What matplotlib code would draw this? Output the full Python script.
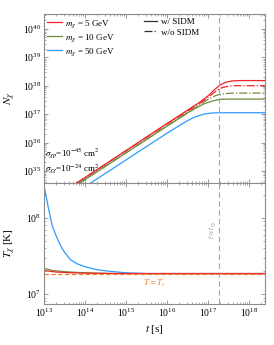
import numpy as np
import matplotlib
matplotlib.use('Agg')
import matplotlib.pyplot as plt
from matplotlib.ticker import LogLocator, NullFormatter

plt.rcParams['font.family'] = ['Liberation Serif', 'DejaVu Serif']
plt.rcParams['mathtext.fontset'] = 'stix'

# ---- data (log10 values) ----
# top panel: number of captured particles N_chi vs t
red_t = [13.80, 14.5, 15.0, 15.5, 16.0, 16.5, 16.8, 17.0, 17.15, 17.3, 17.45, 17.6, 17.8, 18.4]
red_N = [34.58, 35.245, 35.72, 36.195, 36.67, 37.14, 37.42, 37.64, 37.85, 38.03, 38.13, 38.17, 38.18, 38.18]
redd_t = [13.80, 14.5, 15.0, 15.5, 16.0, 16.5, 16.8, 17.0, 17.15, 17.3, 17.45, 17.6, 18.4]
redd_N = [34.58, 35.24, 35.71, 36.18, 36.65, 37.1, 37.38, 37.58, 37.76, 37.91, 37.97, 38.0, 38.0]
grn_t = [13.87, 14.5, 15.0, 15.5, 16.0, 16.5, 16.7, 16.9, 17.1, 17.3, 17.5, 18.4]
grn_N = [34.58, 35.17, 35.64, 36.11, 36.58, 37.04, 37.21, 37.36, 37.46, 37.52, 37.53, 37.53]
grnd_t = [13.87, 14.5, 15.0, 15.5, 16.0, 16.5, 16.8, 17.0, 17.2, 17.4, 17.6, 18.4]
grnd_N = [34.58, 35.17, 35.64, 36.11, 36.58, 37.05, 37.33, 37.52, 37.66, 37.72, 37.74, 37.74]
blu_t = [14.14, 14.5, 15.0, 15.5, 16.0, 16.3, 16.5, 16.7, 16.9, 17.1, 17.3, 18.4]
blu_N = [34.58, 34.92, 35.39, 35.86, 36.33, 36.6, 36.77, 36.91, 37.0, 37.04, 37.05, 37.05]

# bottom panel: temperature T_chi vs t
tb_t = [13.0, 13.1, 13.2, 13.3, 13.4, 13.5, 13.65, 13.8, 14.0, 14.3, 14.6, 15.0, 15.5, 18.4]
tb_T = [8.43, 8.15, 7.90, 7.76, 7.64, 7.55, 7.45, 7.40, 7.36, 7.32, 7.30, 7.28, 7.27, 7.27]
tg_t = [13.0, 13.2, 13.5, 13.8, 14.2, 14.6, 15.0, 18.4]
tg_T = [7.34, 7.31, 7.295, 7.285, 7.277, 7.272, 7.27, 7.27]
tr_t = [13.0, 13.3, 13.7, 14.2, 14.8, 18.4]
tr_T = [7.31, 7.29, 7.28, 7.273, 7.27, 7.27]
Tc = 7.27
t_sun = 17.28

red = '#f0232b'
green = '#6e8b3d'
blue = '#2f9bff'
orange = '#f57f26'
gray = '#8c8c8c'

def p(a):
    return 10 ** np.array(a)

fig = plt.figure(figsize=(2.74, 3.45), dpi=100)
ax1 = fig.add_axes([0.1606, 0.4696, 0.8064, 0.4898])
ax2 = fig.add_axes([0.1606, 0.1188, 0.8064, 0.3508], sharex=ax1)

ax1.plot(p(red_t), p(red_N), color=red, lw=0.9)
ax1.plot(p(redd_t), p(redd_N), color=red, lw=0.9, ls='-.')
ax1.plot(p(grn_t), p(grn_N), color=green, lw=0.9)
ax1.plot(p(grnd_t), p(grnd_N), color=green, lw=0.9, ls='-.')
ax1.plot(p(blu_t), p(blu_N), color=blue, lw=0.9)

ax2.plot(p(tb_t), p(tb_T), color=blue, lw=0.9)
ax2.plot(p(tg_t), p(tg_T), color=green, lw=0.9)
ax2.plot(p(tr_t), p(tr_T), color=red, lw=0.9)
ax2.axhline(10 ** Tc, color=orange, lw=0.9, ls=(0, (3.5, 2)))

for ax in (ax1, ax2):
    ax.axvline(10 ** t_sun, color='#9aa8bb', lw=0.8, ls=(0, (5, 3)))
    ax.set_xscale('log')
    ax.set_yscale('log')
    for s in ax.spines.values():
        s.set_color(gray)
        s.set_linewidth(0.8)
    ax.tick_params(which='both', direction='in', top=True, right=True,
                   color=gray, labelsize=7, pad=2)
    ax.tick_params(which='major', length=3, width=0.6)
    ax.tick_params(which='minor', length=1.6, width=0.5)
    ax.xaxis.set_major_locator(LogLocator(base=10, numticks=20))
    ax.xaxis.set_minor_locator(LogLocator(base=10, subs=np.arange(2, 10), numticks=20))
    ax.xaxis.set_minor_formatter(NullFormatter())

ax1.set_xlim(1e13, 10 ** 18.39)
ax1.set_ylim(10 ** 34.58, 10 ** 40.52)
ax1.set_yticks([1e35, 1e36, 1e37, 1e38, 1e39, 1e40])
ax1.yaxis.set_minor_locator(LogLocator(base=10, subs=np.arange(2, 10), numticks=20))
ax1.yaxis.set_minor_formatter(NullFormatter())
plt.setp(ax1.get_xticklabels(), visible=False)

ax2.set_ylim(10 ** 6.87, 10 ** 8.46)
ax2.set_yticks([1e7, 1e8])
ax2.yaxis.set_minor_locator(LogLocator(base=10, subs=np.arange(2, 10), numticks=20))
ax2.yaxis.set_minor_formatter(NullFormatter())

ax1.set_ylabel(r'$N_\chi$', fontsize=8)
ax2.set_ylabel(r'$T_\chi$ [K]', fontsize=8)
ax1.yaxis.set_label_coords(-0.118, 0.5)
ax2.yaxis.set_label_coords(-0.118, 0.5)
ax2.set_xlabel(r'$t$ [s]', fontsize=8, labelpad=3)

# legends
h1 = [plt.Line2D([], [], color=c, lw=0.9) for c in (red, green, blue)]
leg1 = ax1.legend(h1, [r'$m_\chi$ = 5 GeV', r'$m_\chi$ = 10 GeV', r'$m_\chi$ = 50 GeV'],
                  loc='upper left', bbox_to_anchor=(-0.01, 1.01), frameon=False,
                  fontsize=6.5, handlelength=1.6, handletextpad=0.4, labelspacing=0.25,
                  borderaxespad=0.2)
ax1.add_artist(leg1)
h2 = [plt.Line2D([], [], color='#333333', lw=0.9),
      plt.Line2D([], [], color='#333333', lw=0.9, ls='-.')]
ax1.legend(h2, ['w/ SIDM', 'w/o SIDM'], loc='upper left', bbox_to_anchor=(0.43, 1.01),
           frameon=False, fontsize=6.5, handlelength=1.4, handletextpad=0.4,
           labelspacing=0.25, borderaxespad=0.2)

ax1.text(0.005, 0.178, r'$\sigma_{\chi p}$=10$^{-45}$ cm$^2$', transform=ax1.transAxes,
         fontsize=6.5, ha='left', va='center')
ax1.text(0.005, 0.078, r'$\sigma_{\chi\chi}$=10$^{-24}$ cm$^2$', transform=ax1.transAxes,
         fontsize=6.5, ha='left', va='center')

ax2.text(10 ** 17.1, 10 ** 7.85, r'$t \approx t_\odot$', rotation=90, color='#8a9ab0',
         fontsize=5.5, ha='center', va='center')
ax2.text(10 ** 15.7, 10 ** 7.14, r'$T = T_c$', color=orange, fontsize=6.5,
         ha='center', va='center')

fig.savefig('out.png', dpi=100)
